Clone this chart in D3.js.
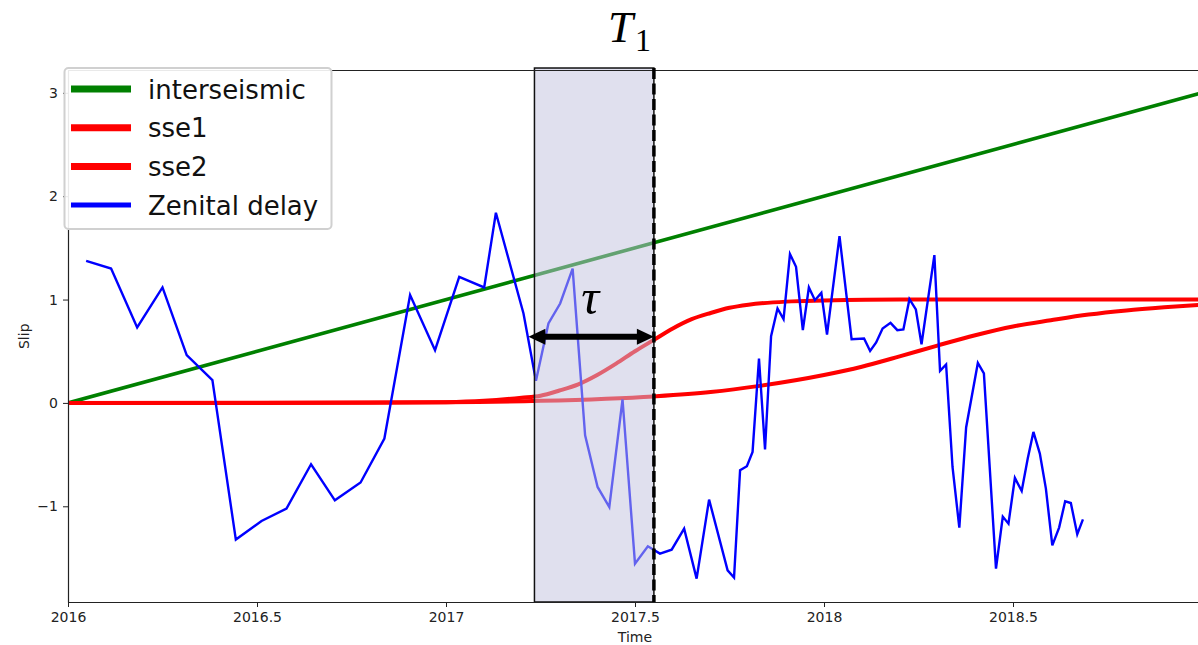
<!DOCTYPE html>
<html>
<head>
<meta charset="utf-8">
<script src="https://cdn.jsdelivr.net/npm/d3@7"></script>
<style>
  body { margin: 0; background: #fff; }
  svg { display: block; font-family: "DejaVu Sans", sans-serif; }
</style>
</head>
<body>
<div id="chart"></div>
<script>
// tick labels
var xTicks = [2016, 2016.5, 2017, 2017.5, 2018, 2018.5];
var yTicks = [-1, 0, 1, 2, 3];

// interseismic (straight line)
var interTime = [2016, 2019];
var interVal = [0, 3.0];

// sse1
var sse1Time = [2016, 2016.5, 2016.8, 2017.0, 2017.1, 2017.2, 2017.25, 2017.3, 2017.35, 2017.4, 2017.45, 2017.5,
                2017.55, 2017.6, 2017.65, 2017.7, 2017.75, 2017.8, 2017.9, 2018.0, 2018.2, 2018.5, 2019];
var sse1Val = [0, 0, 0.001, 0.007, 0.02, 0.05, 0.07, 0.12, 0.18, 0.27, 0.38, 0.5,
               0.61, 0.72, 0.81, 0.87, 0.92, 0.95, 0.98, 0.99, 1.0, 1.0, 1.0];

// sse2
var sse2Time = [2016, 2016.5, 2017.0, 2017.25, 2017.55, 2017.7, 2017.83, 2018.0, 2018.1, 2018.2,
                2018.3, 2018.4, 2018.5, 2018.6, 2018.7, 2018.8, 2018.9, 2019];
var sse2Val = [0, 0.001, 0.006, 0.02, 0.063, 0.105, 0.165, 0.27, 0.35, 0.45,
               0.555, 0.655, 0.74, 0.80, 0.855, 0.895, 0.925, 0.95];

// Zenital delay
var zdTime = [2016.048, 2016.114, 2016.183, 2016.250, 2016.314, 2016.382, 2016.444, 2016.512, 2016.578, 2016.643,
              2016.706, 2016.774, 2016.837, 2016.905, 2016.971, 2017.035, 2017.101, 2017.132, 2017.205, 2017.238,
              2017.271, 2017.302, 2017.335, 2017.368, 2017.401, 2017.432, 2017.467, 2017.500, 2017.534, 2017.566,
              2017.597, 2017.630, 2017.663, 2017.696, 2017.745, 2017.762, 2017.778, 2017.796, 2017.811, 2017.828,
              2017.844, 2017.860, 2017.877, 2017.893, 2017.910, 2017.926, 2017.944, 2017.960, 2017.976, 2017.993,
              2018.008, 2018.041, 2018.073, 2018.106, 2018.122, 2018.138, 2018.155, 2018.176, 2018.194, 2018.210,
              2018.226, 2018.243, 2018.258, 2018.292, 2018.307, 2018.323, 2018.340, 2018.358, 2018.376, 2018.407,
              2018.423, 2018.455, 2018.473, 2018.488, 2018.505, 2018.523, 2018.539, 2018.554, 2018.571, 2018.587,
              2018.604, 2018.622, 2018.638, 2018.653, 2018.670, 2018.685];
var zdVal = [1.375, 1.30, 0.73, 1.117, 0.462, 0.22, -1.322, -1.142, -1.022, -0.593,
             -0.942, -0.77, -0.345, 1.043, 0.51, 1.22, 1.117, 1.84, 0.865, 0.215,
             0.769, 0.962, 1.30, -0.313, -0.813, -1.007, 0.033, -1.555, -1.387, -1.458,
             -1.42, -1.216, -1.70, -0.935, -1.62, -1.69, -0.651, -0.613, -0.474, 0.43,
             -0.451, 0.646, 0.914, 0.81, 1.44, 1.317, 0.704, 1.117, 0.994, 1.065,
             0.662, 1.614, 0.617, 0.623, 0.503, 0.585, 0.72, 0.775, 0.704, 0.711,
             1.004, 0.904, 0.568, 1.43, 0.31, 0.372, -0.62, -1.206, -0.238, 0.387,
             0.285, -1.603, -1.10, -1.168, -0.726, -0.852, -0.538, -0.281, -0.49, -0.829,
             -1.378, -1.206, -0.952, -0.968, -1.271, -1.126];

// event window
var T1 = 2017.55;
var tau = 0.316;
var arrowStart = 2017.218;
var arrowY = 0.64;
var spanTop = 3.24;

var legendNames = ["interseismic", "sse1", "sse2", "Zenital delay"];
var legendColors = ["green", "red", "red", "blue"];

var width = 1198, height = 645;

var x = d3.scaleLinear()
          .domain([2016, 2019])
          .range([68, 1202]);

var y = d3.scaleLinear()
          .domain([-1.926, 3.216])
          .range([602, 70.5]);

var svg = d3.select('#chart')
  .append('svg')
  .attr('width', width)
  .attr('height', height);

svg.append('clipPath').attr('id', 'plot-clip')
  .append('rect')
  .attr('x', x(2016)).attr('y', y(3.216))
  .attr('width', x(2019) - x(2016))
  .attr('height', y(-1.926) - y(3.216));

var plot = svg.append('g').attr('clip-path', 'url(#plot-clip)');

function pairs(ts, vs) {
  return ts.map(function(t, i){ return [t, vs[i]]; });
}

var line = d3.line()
  .x(function(d){ return x(d[0]); })
  .y(function(d){ return y(d[1]); });

var smooth = d3.line()
  .x(function(d){ return x(d[0]); })
  .y(function(d){ return y(d[1]); })
  .curve(d3.curveMonotoneX);

plot.append('path')
  .datum(pairs(interTime, interVal))
  .attr('d', line)
  .attr('fill', 'none').attr('stroke', 'green').attr('stroke-width', 3.6);

plot.append('path')
  .datum(pairs(sse1Time, sse1Val))
  .attr('d', smooth)
  .attr('fill', 'none').attr('stroke', 'red').attr('stroke-width', 4);

plot.append('path')
  .datum(pairs(sse2Time, sse2Val))
  .attr('d', smooth)
  .attr('fill', 'none').attr('stroke', 'red').attr('stroke-width', 4);

plot.append('path')
  .datum(pairs(zdTime, zdVal))
  .attr('d', line)
  .attr('fill', 'none').attr('stroke', 'blue').attr('stroke-width', 2.4)
  .attr('stroke-linejoin', 'miter');

// shaded window (drawn over the lines)
svg.append('rect')
  .attr('x', x(T1 - tau))
  .attr('y', y(spanTop))
  .attr('width', x(T1) - x(T1 - tau))
  .attr('height', y(-1.926) - y(spanTop))
  .attr('fill', 'rgb(194,194,222)')
  .attr('fill-opacity', 0.51)
  .attr('stroke', '#111')
  .attr('stroke-width', 1.5);

// axes
var xAxis = d3.axisBottom(x)
  .tickValues(xTicks)
  .tickFormat(function(d){ return String(d); })
  .tickSize(5).tickSizeOuter(0).tickPadding(5);

var yAxis = d3.axisLeft(y)
  .tickValues(yTicks)
  .tickFormat(function(d){ return d < 0 ? '\u2212' + Math.abs(d) : String(d); })
  .tickSize(5).tickSizeOuter(0).tickPadding(5);

var gx = svg.append('g')
  .attr('transform', 'translate(0,' + y(-1.926) + ')')
  .call(xAxis);

var gy = svg.append('g')
  .attr('transform', 'translate(' + x(2016) + ',0)')
  .call(yAxis);

[gx, gy].forEach(function(g){
  g.select('.domain').attr('stroke', '#222').attr('stroke-width', 1.2);
  g.selectAll('.tick line').attr('stroke', '#222').attr('stroke-width', 1);
  g.selectAll('.tick text').attr('fill', '#222').style('font-size', '14px')
    .style('font-family', '"DejaVu Sans", sans-serif');
});

// top spine
svg.append('line')
  .attr('x1', x(2016)).attr('x2', x(2019))
  .attr('y1', y(3.216)).attr('y2', y(3.216))
  .attr('stroke', '#222').attr('stroke-width', 1.2);

// dashed T1 line
svg.append('line')
  .attr('x1', x(T1)).attr('x2', x(T1))
  .attr('y1', y(spanTop)).attr('y2', y(-1.926))
  .attr('stroke', 'black').attr('stroke-width', 3.5)
  .attr('stroke-dasharray', '11,4.5');

// double arrow for tau
var ax0 = x(arrowStart), ax1 = x(T1), ay = y(arrowY);
var headLen = 17, headHalf = 8;
svg.append('line')
  .attr('x1', ax0 + headLen - 2).attr('x2', ax1 - headLen + 2)
  .attr('y1', ay).attr('y2', ay)
  .attr('stroke', 'black').attr('stroke-width', 6);
svg.append('path')
  .attr('d', 'M' + ax0 + ',' + ay + 'L' + (ax0 + headLen) + ',' + (ay - headHalf) +
             'L' + (ax0 + headLen) + ',' + (ay + headHalf) + 'Z')
  .attr('fill', 'black');
svg.append('path')
  .attr('d', 'M' + ax1 + ',' + ay + 'L' + (ax1 - headLen) + ',' + (ay - headHalf) +
             'L' + (ax1 - headLen) + ',' + (ay + headHalf) + 'Z')
  .attr('fill', 'black');

svg.append('text')
  .attr('x', x(T1 - tau / 2) - 4)
  .attr('y', y(arrowY) - 23)
  .attr('text-anchor', 'middle')
  .style('font-family', '"Liberation Serif", serif')
  .style('font-style', 'italic')
  .style('font-size', '50px')
  .text('\u03c4');

// title T_1
var title = svg.append('text')
  .attr('x', 608)
  .attr('y', 42)
  .style('font-family', '"Liberation Serif", serif')
  .style('font-size', '45px');
title.append('tspan').style('font-style', 'italic').text('T');
title.append('tspan').attr('dy', 9).attr('dx', 2).style('font-size', '32px').text('1');

// axis labels
svg.append('text')
  .attr('x', (x(2016) + x(2019)) / 2)
  .attr('y', 642)
  .attr('text-anchor', 'middle')
  .style('font-size', '14px')
  .attr('fill', '#222')
  .text('Time');

svg.append('text')
  .attr('transform', 'translate(29,' + ((y(3.216) + y(-1.926)) / 2) + ') rotate(-90)')
  .attr('text-anchor', 'middle')
  .style('font-size', '14px')
  .attr('fill', '#222')
  .text('Slip');

// legend
var legend = svg.append('g');
legend.append('rect')
  .attr('x', 64.5).attr('y', 68)
  .attr('width', 267).attr('height', 161)
  .attr('rx', 4)
  .attr('fill', 'white').attr('fill-opacity', 0.9)
  .attr('stroke', '#d0d0d0').attr('stroke-width', 2);

var item = legend.selectAll('g.item')
  .data(legendNames)
  .enter()
  .append('g')
    .attr('class', 'item')
    .attr('transform', function(d, i){
      return 'translate(0,' + (89 + i * 38.7) + ')';
    });

item.append('line')
  .attr('x1', 71).attr('x2', 131)
  .attr('stroke', function(d, i){ return legendColors[i]; })
  .attr('stroke-width', function(d, i){ return i === 3 ? 5 : 7; });

item.append('text')
  .attr('x', 148)
  .attr('y', 9.5)
  .style('font-size', '26px')
  .attr('fill', '#111')
  .text(function(d){ return d; });
</script>
</body>
</html>
